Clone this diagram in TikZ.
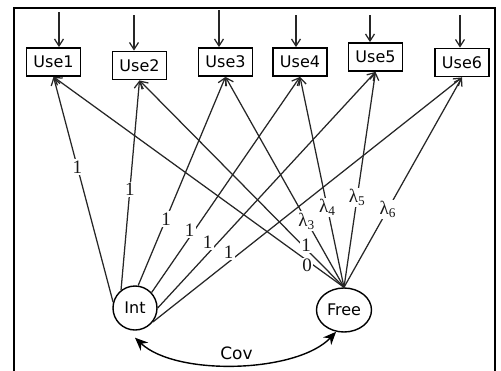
\documentclass[tikz,border=0pt]{standalone}
\usepackage{fontspec}
\setmainfont{Liberation Serif}
\newfontfamily\boxfont{DejaVu Sans}
\usetikzlibrary{arrows.meta,shapes.geometric}
\begin{document}
\begin{tikzpicture}[x=1pt,y=-1pt,
  obs/.style={draw=black, line width=1.8pt, minimum width=54pt, minimum height=28pt, inner sep=0pt, font=\boxfont\fontsize{16}{16}\selectfont},
  lat/.style={draw=black, line width=1.4pt, inner sep=0pt, font=\boxfont\fontsize{16}{16}\selectfont},
  conn/.style={draw=black!85, line width=1.25pt, -{Straight Barb[length=7pt,width=9pt]}},
  lab/.style={fill=white, inner sep=1.5pt, font=\fontsize{19}{19}\selectfont, text=black!90},
  covarr/.style={draw=black, line width=1.4pt, {Stealth[length=13pt,width=11pt]}-{Stealth[length=13pt,width=11pt]}},
]
\useasboundingbox (0,0) rectangle (501,370);
\draw[line width=2pt] (14,380) -- (14,8) -- (495,8) -- (495,380);

\node[obs] (use1) at (53.5,62) {Use1};
\node[obs] (use2) at (139.5,65.5) {Use2};
\node[obs] (use3) at (225.5,62) {Use3};
\node[obs] (use4) at (300,62) {Use4};
\node[obs] (use5) at (375.5,57) {Use5};
\node[obs] (use6) at (462,62.5) {Use6};
\node[lat, circle, minimum size=44pt] (int) at (135,308) {Int};
\node[lat, ellipse, minimum width=55pt, minimum height=44pt] (free) at (344,310) {Free};

% error terms (free ends)
\coordinate (t1) at (59,12);
\coordinate (t2) at (134,15);
\coordinate (t3) at (219,10);
\coordinate (t4) at (296,15);
\coordinate (t5) at (370,15);
\coordinate (t6) at (460,15);
\draw[conn] (t1) -- (t1 |- use1.north);
\draw[conn] (t2) -- (t2 |- use2.north);
\draw[conn] (t3) -- (t3 |- use3.north);
\draw[conn] (t4) -- (t4 |- use4.north);
\draw[conn] (t5) -- (t5 |- use5.north);
\draw[conn] (t6) -- (t6 |- use6.north);

% loadings of Int
\draw[conn] (int.165) -- (use1.south);
\draw[conn] (int.128) -- (use2.south);
\draw[conn] (int.82) -- (use3.south);
\draw[conn] (int.43) -- (use4.south);
\draw[conn] (int.0) -- (use5.south);
\draw[conn] (int.-38) -- (use6.south);

% loadings of Free
\draw[conn] (free.north) -- (use1.south);
\draw[conn] (free.north) -- (use2.south);
\draw[conn] (free.north) -- (use3.south);
\draw[conn] (free.north) -- (use4.south);
\draw[conn] (free.north) -- (use5.south);
\draw[conn] (free.north) -- (use6.south);

% labels on top
\path (int.165) -- node[lab,pos=0.6]{1} (use1.south);
\path (int.128) -- node[lab,pos=0.48]{1} (use2.south);
\path (int.82) -- node[lab,pos=0.32]{1} (use3.south);
\path (int.43) -- node[lab,pos=0.29,xshift=-5pt]{1} (use4.south);
\path (int.0) -- node[lab,pos=0.28,xshift=-11pt]{1} (use5.south);
\path (int.-38) -- node[lab,pos=0.284,xshift=-12pt]{1} (use6.south);

\path (free.north) -- node[lab,pos=0.103,xshift=-7pt]{0} (use1.south);
\path (free.north) -- node[lab,pos=0.205,xshift=4pt]{1} (use2.south);
\path (free.north) -- node[lab,pos=0.315]{λ\textsubscript{3}} (use3.south);
\path (free.north) -- node[lab,pos=0.38]{λ\textsubscript{4}} (use4.south);
\path (free.north) -- node[lab,pos=0.417]{λ\textsubscript{5}} (use5.south);
\path (free.north) -- node[lab,pos=0.372]{λ\textsubscript{6}} (use6.south);

% covariance
\coordinate (covs) at ([yshift=-7pt]int.south);
\draw[covarr] (covs) to[bend right=45, looseness=0.72] node[pos=0.5, above=1pt, font=\boxfont\fontsize{17}{17}\selectfont]{Cov} (free.250);
\end{tikzpicture}
\end{document}
